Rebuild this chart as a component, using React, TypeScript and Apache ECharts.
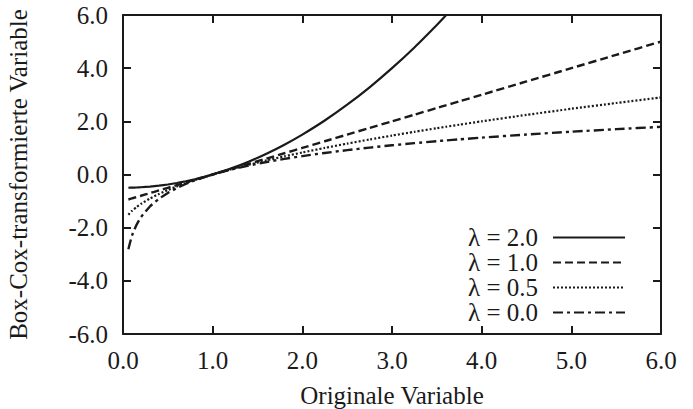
import React, { useEffect, useRef } from "react";
import * as echarts from "echarts";

const xValues = [0.06, 0.1, 0.15, 0.2, 0.3, 0.4, 0.5, 0.6, 0.7, 0.8, 0.9, 1.0, 1.2, 1.4, 1.6, 1.8, 2.0, 2.25, 2.5, 2.75, 3.0, 3.25, 3.5, 3.6, 3.75, 4.0, 4.5, 5.0, 5.5, 6.0];
const lambda20 = [-0.498, -0.495, -0.489, -0.48, -0.455, -0.42, -0.375, -0.32, -0.255, -0.18, -0.095, 0, 0.22, 0.48, 0.78, 1.12, 1.5, 2.03, 2.625, 3.28, 4.0, 4.78, 5.625, 5.98, 6.53, 7.5, 9.625, 12.0, 14.625, 17.5];
const lambda10 = [-0.94, -0.9, -0.85, -0.8, -0.7, -0.6, -0.5, -0.4, -0.3, -0.2, -0.1, 0, 0.2, 0.4, 0.6, 0.8, 1.0, 1.25, 1.5, 1.75, 2.0, 2.25, 2.5, 2.6, 2.75, 3.0, 3.5, 4.0, 4.5, 5.0];
const lambda05 = [-1.51, -1.368, -1.225, -1.106, -0.905, -0.735, -0.586, -0.451, -0.327, -0.211, -0.103, 0, 0.191, 0.366, 0.53, 0.683, 0.828, 1.0, 1.162, 1.317, 1.464, 1.606, 1.742, 1.795, 1.873, 2.0, 2.243, 2.472, 2.69, 2.899];
const lambda00 = [-2.813, -2.303, -1.897, -1.609, -1.204, -0.916, -0.693, -0.511, -0.357, -0.223, -0.105, 0, 0.182, 0.336, 0.47, 0.588, 0.693, 0.811, 0.916, 1.012, 1.099, 1.179, 1.253, 1.281, 1.322, 1.386, 1.504, 1.609, 1.705, 1.792];
const seriesNames = ["λ = 2.0", "λ = 1.0", "λ = 0.5", "λ = 0.0"];
const xTicks = { min: 0, max: 6, interval: 1 };
const yTicks = { min: -6, max: 6, interval: 2 };

const FONT = "'Liberation Serif', 'Times New Roman', serif";
const INK = "#1a1a1a";

export default function App() {
  const ref = useRef<HTMLDivElement>(null);
  useEffect(() => {
    if (!ref.current) return;
    const chart = echarts.init(ref.current, undefined, { renderer: "svg" });
    const pair = (ys: number[]) => xValues.map((x, i) => [x, ys[i]]);
    const styles = [
      { type: "solid" as any, width: 2.2 },
      { type: [8, 4] as any, width: 2.4 },
      { type: [2, 2] as any, width: 2.2 },
      { type: [10, 4, 3, 4] as any, width: 2.4 },
    ];
    const datas = [lambda20, lambda10, lambda05, lambda00];
    const axisCommon = {
      axisLine: { show: true, onZero: false, lineStyle: { color: INK, width: 2 } },
      axisTick: { show: true, inside: true, length: 8, lineStyle: { color: INK, width: 2 } },
      splitLine: { show: false },
    };
    chart.setOption({
      animation: false,
      backgroundColor: "#ffffff",
      grid: { left: 123, right: 32, top: 15, bottom: 75, containLabel: false, outerBoundsMode: "none" },
      legend: {
        show: true,
        orient: "vertical",
        right: 62,
        bottom: 79,
        align: "right",
        itemWidth: 72,
        itemHeight: 14,
        itemGap: 0,
        itemStyle: { opacity: 0 },
        data: seriesNames,
        textStyle: { fontFamily: FONT, fontSize: 25, color: INK, padding: [0, 10, 0, 0], lineHeight: 25 },
      },
      xAxis: [
        {
          type: "value",
          ...xTicks,
          position: "bottom",
          name: "Originale Variable",
          nameLocation: "middle",
          nameGap: 49,
          nameTextStyle: { fontFamily: FONT, fontSize: 25, color: INK, lineHeight: 25 },
          axisLabel: { fontFamily: FONT, fontSize: 25, color: INK, margin: 14, formatter: (v: number) => v.toFixed(1) },
          ...axisCommon,
        },
        {
          type: "value",
          ...xTicks,
          position: "top",
          axisLabel: { show: false },
          ...axisCommon,
        },
      ],
      yAxis: [
        {
          type: "value",
          ...yTicks,
          position: "left",
          name: "Box-Cox-transformierte Variable",
          nameLocation: "middle",
          nameGap: 92,
          nameTextStyle: { fontFamily: FONT, fontSize: 25, color: INK },
          axisLabel: { fontFamily: FONT, fontSize: 25, color: INK, margin: 15, formatter: (v: number) => v.toFixed(1) },
          ...axisCommon,
        },
        {
          type: "value",
          ...yTicks,
          position: "right",
          axisLabel: { show: false },
          ...axisCommon,
        },
      ],
      series: datas.map((d, i) => ({
        name: seriesNames[i],
        type: "line",
        data: pair(d),
        showSymbol: false,
        symbol: "none",
        smooth: 0.2,
        clip: true,
        color: INK,
        lineStyle: { color: INK, ...styles[i] },
      })),
    });
    return () => chart.dispose();
  }, []);
  return <div ref={ref} style={{ width: 693, height: 409, position: "absolute", left: 0, top: 0 }} />;
}
